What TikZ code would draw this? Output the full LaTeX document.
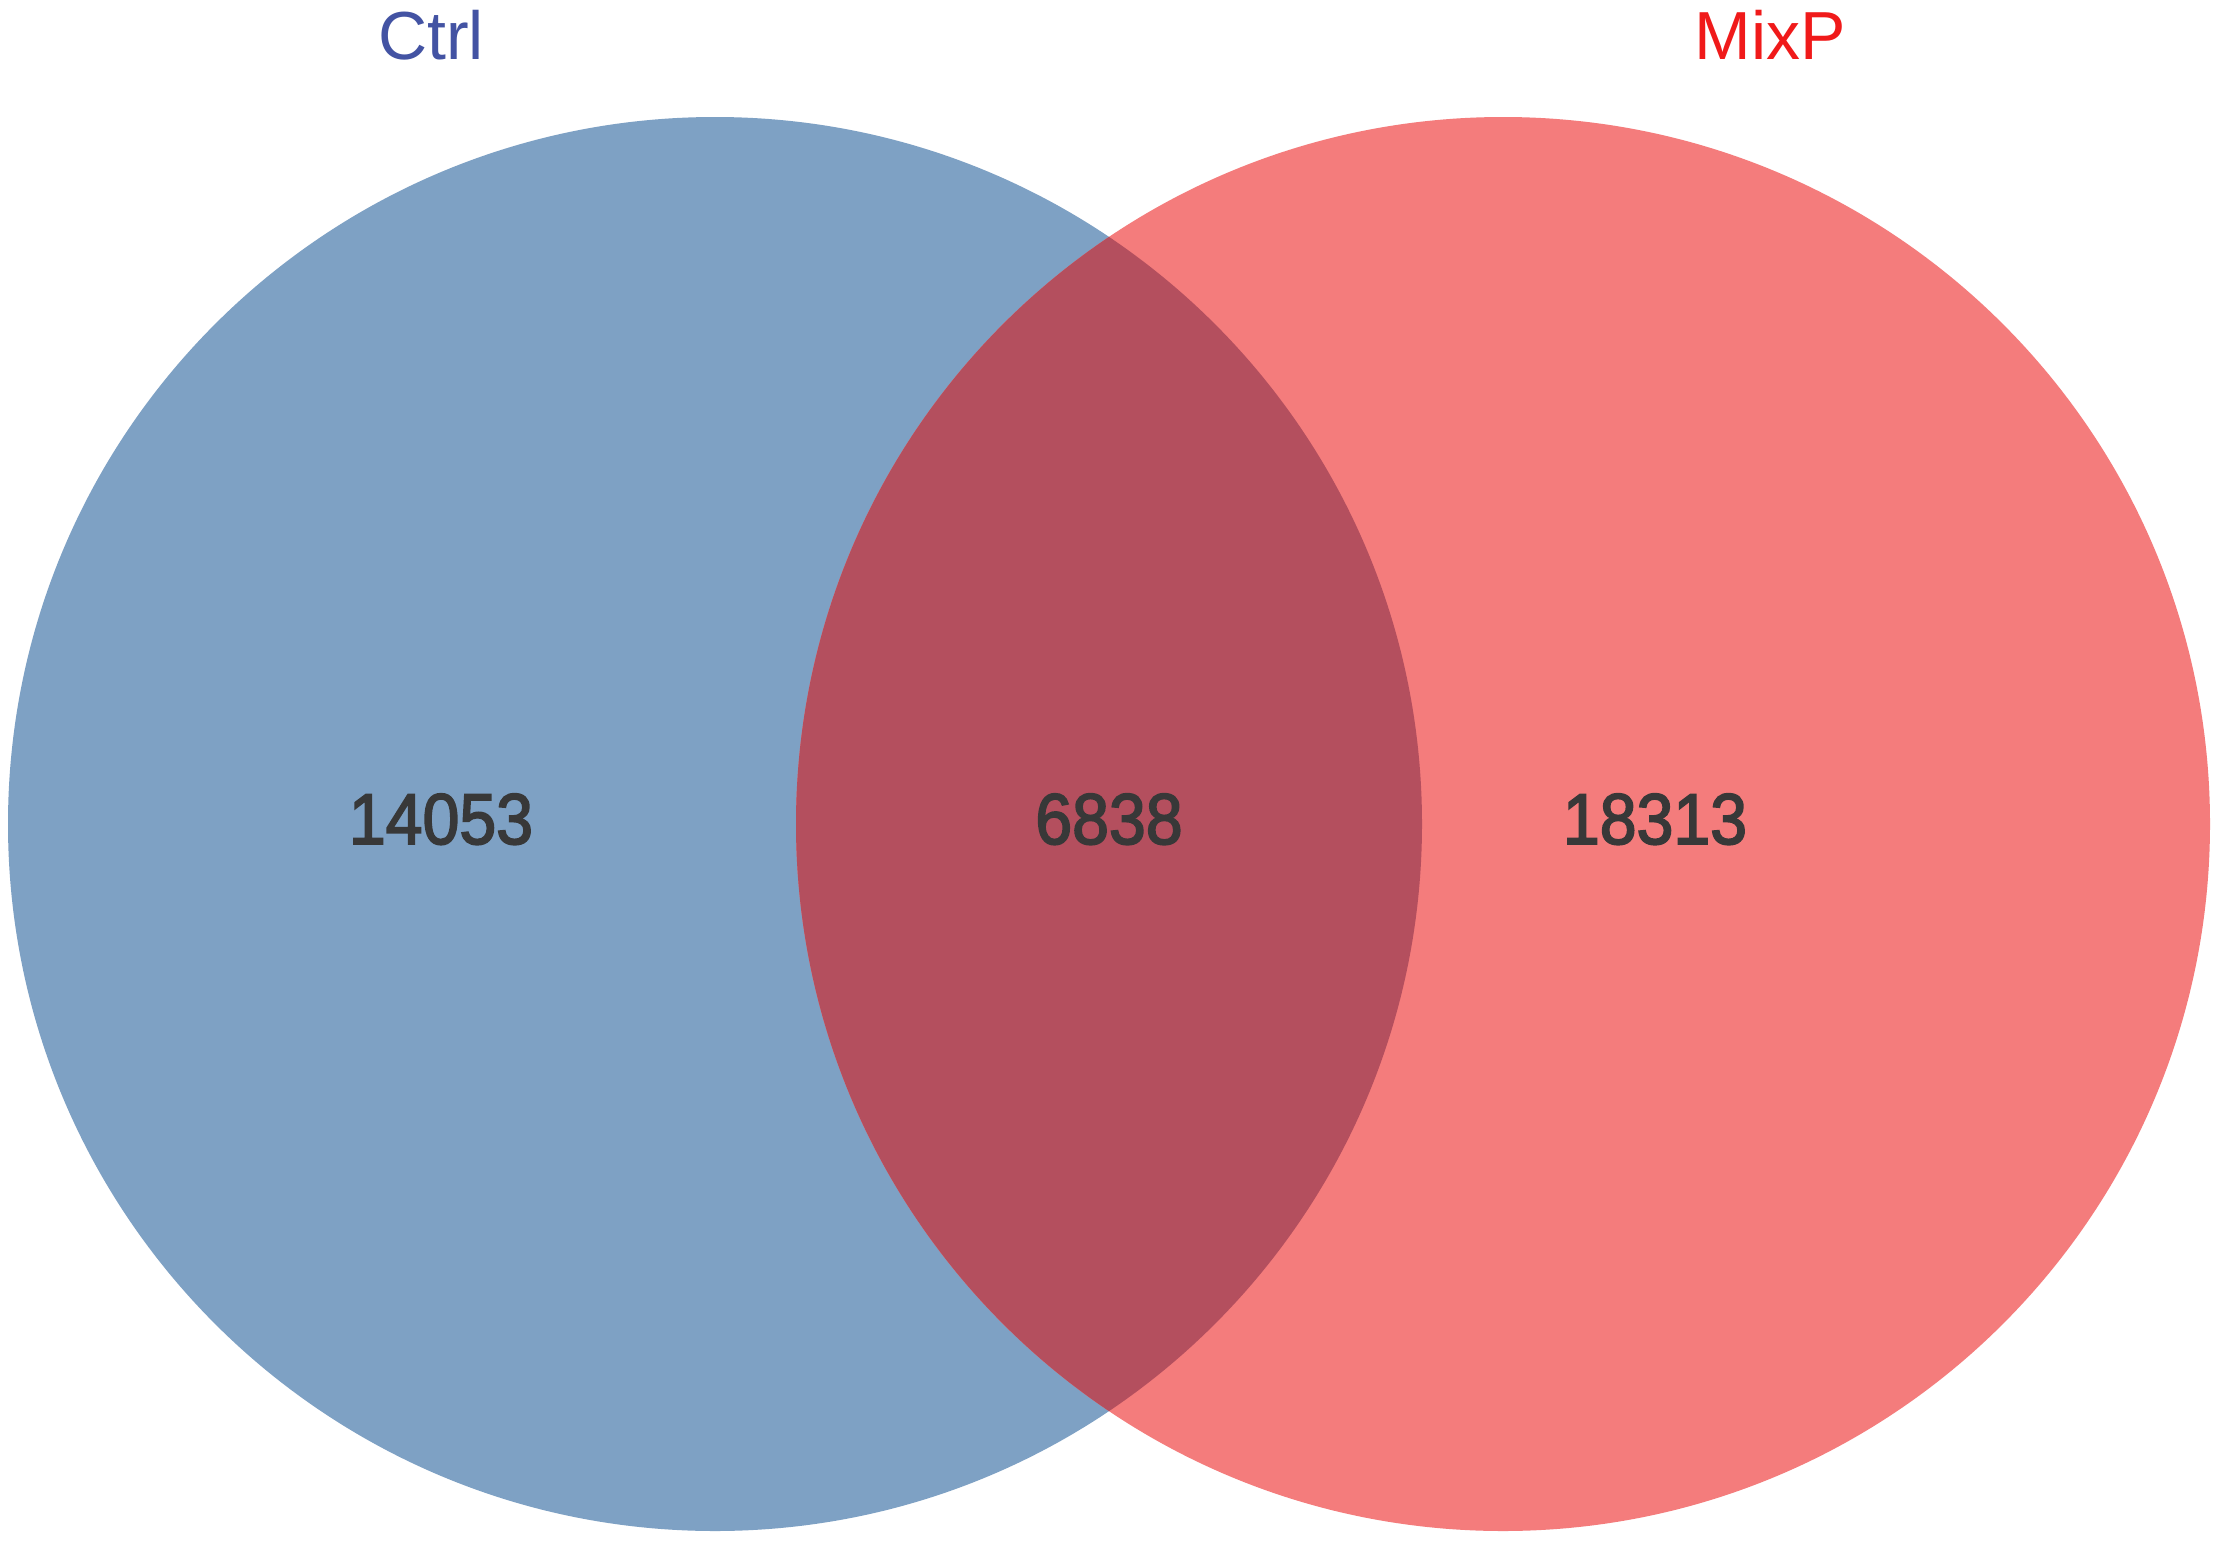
\documentclass[tikz,border=0pt]{standalone}
\usepackage{fontspec}
\setmainfont{Liberation Sans}
\newfontfamily\countfont[FakeBold=2.5]{Liberation Sans}
\definecolor{ctrlfill}{HTML}{7EA1C4}
\definecolor{mixfill}{HTML}{F47C7C}
\definecolor{bothfill}{HTML}{B44F5E}
\definecolor{ctrltext}{HTML}{4353A3}
\definecolor{mixtext}{HTML}{F01A1A}
\definecolor{numtext}{HTML}{383838}
\begin{document}
\begin{tikzpicture}[x=1pt,y=-1pt,
  setlabel/.style={anchor=base,inner sep=0pt,font=\fontsize{68}{80}\selectfont},
  count/.style={anchor=base,inner sep=0pt,text=numtext,xscale=0.92,font=\countfont\fontsize{72}{86}\selectfont}]
\useasboundingbox (0,0) rectangle (2217,1540);
\fill[white] (0,0) rectangle (2217,1540);
\def\R{707}
\fill[ctrlfill] (715,824) circle[radius=\R];
\fill[mixfill] (1503,824) circle[radius=\R];
\begin{scope}
  \clip (715,824) circle[radius=\R];
  \fill[bothfill] (1503,824) circle[radius=\R];
\end{scope}
\node[setlabel,text=ctrltext] (ctrl) at (431,59) {Ctrl};
\node[setlabel,text=mixtext] (mixp) at (1770,59) {MixP};
\node[count] (only1) at (441,844) {14053};
\node[count] (both) at (1109,844) {6838};
\node[count] (only2) at (1655,844) {18313};
\end{tikzpicture}
\end{document}
